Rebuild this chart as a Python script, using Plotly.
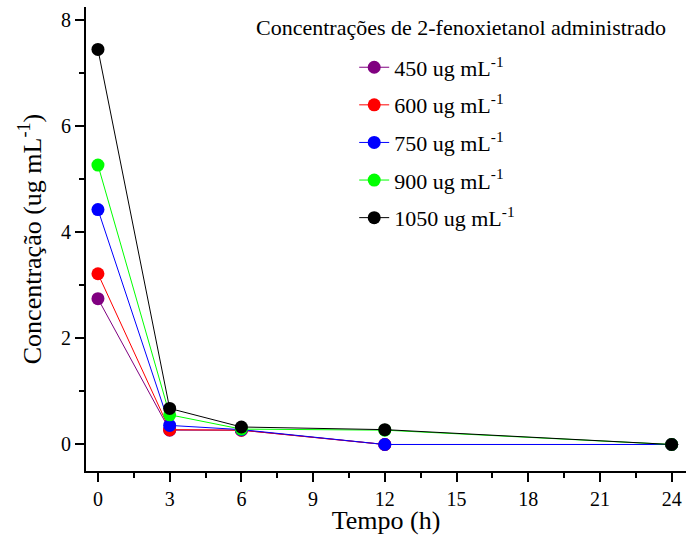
import plotly.graph_objects as go

tempo = [0, 3, 6, 12, 24]
labels = ["450 ug mL<sup>-1</sup>", "600 ug mL<sup>-1</sup>", "750 ug mL<sup>-1</sup>",
          "900 ug mL<sup>-1</sup>", "1050 ug mL<sup>-1</sup>"]
c450 = [2.75, 0.27, 0.27, 0.0, 0.0]
c600 = [3.22, 0.28, 0.27, 0.0, 0.0]
c750 = [4.43, 0.36, 0.28, 0.0, 0.0]
c900 = [5.27, 0.56, 0.29, 0.27, 0.0]
c1050 = [7.45, 0.68, 0.33, 0.28, 0.0]
series = [c450, c600, c750, c900, c1050]
colors = ["#800080", "#ff0000", "#0000ff", "#00ff00", "#000000"]

FONT = "Liberation Serif, Times New Roman, serif"

fig = go.Figure()
for i, (lab, ys, col) in enumerate(zip(labels, series, colors)):
    fig.add_trace(go.Scatter(
        x=tempo, y=ys, name=lab, mode="lines+markers",
        line=dict(color=col, width=1),
        marker=dict(color=col, size=13, symbol="circle"),
        legendgroup=f"g{i}",
    ))

fig.update_layout(
    width=686, height=535,
    margin=dict(l=86, r=0, t=7, b=64),
    paper_bgcolor="white", plot_bgcolor="white",
    font=dict(family=FONT, color="black", size=19),
    showlegend=True,
    legend=dict(
        x=0.447, y=0.915, xanchor="left", yanchor="top",
        font=dict(family=FONT, size=22, color="black"),
        bgcolor="rgba(0,0,0,0)", tracegroupgap=6,
        itemsizing="trace",
    ),
    annotations=[dict(
        text="Concentrações de 2-fenoxietanol administrado",
        x=0.625, y=0.955, xref="paper", yref="paper",
        xanchor="center", yanchor="middle", showarrow=False,
        font=dict(family=FONT, size=22, color="black"),
    )],
)

fig.update_xaxes(
    range=[-0.5, 24.6], tickmode="linear", tick0=0, dtick=3,
    showline=True, linecolor="black", linewidth=2, mirror=False,
    ticks="outside", ticklen=9, tickwidth=1.5, tickcolor="black",
    minor=dict(ticks="outside", ticklen=5, tickwidth=1.5, dtick=1.5, tick0=0, tickcolor="black"),
    showgrid=False, zeroline=False,
    tickfont=dict(family=FONT, size=20, color="black"),
    title=dict(text="Tempo (h)", font=dict(family=FONT, size=26, color="black"), standoff=8),
)
fig.update_yaxes(
    range=[-0.5, 8.25], tickmode="linear", tick0=0, dtick=2,
    showline=True, linecolor="black", linewidth=2, mirror=False,
    ticks="outside", ticklen=9, tickwidth=1.5, tickcolor="black",
    minor=dict(ticks="outside", ticklen=5, tickwidth=1.5, dtick=1, tick0=0, tickcolor="black"),
    showgrid=False, zeroline=False,
    tickfont=dict(family=FONT, size=20, color="black"),
    title=dict(text="Concentração (ug mL<sup>-1</sup>)", font=dict(family=FONT, size=26, color="black"), standoff=12),
)

fig.write_html("out.html")
